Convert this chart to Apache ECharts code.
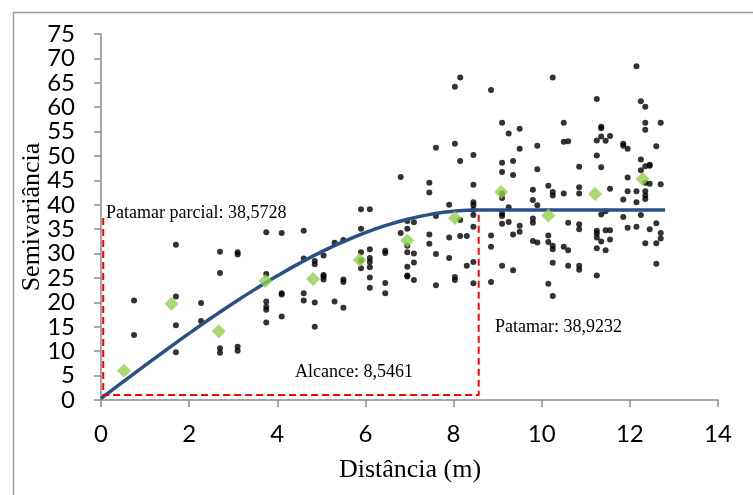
<!DOCTYPE html>
<html>
<head>
<meta charset="utf-8">
<script src="https://cdn.jsdelivr.net/npm/echarts@6/dist/echarts.min.js"></script>
<style>
html,body{margin:0;padding:0;background:#fff;}
#chart{width:753px;height:495px;}
</style>
</head>
<body>
<div id="chart"></div>
<script>
// Experimental semivariance (black dots): [distance, semivariance]
const experimentalPoints = [
  [0.75,20.4],[0.75,13.3],
  [1.7,31.8],[1.7,21.2],[1.7,15.3],[1.7,9.8],
  [2.27,19.9],[2.27,16.2],
  [2.7,30.4],[2.7,26.0],[2.7,10.6],[2.7,9.7],
  [3.1,30.3],[3.1,29.8],[3.1,10.9],[3.1,10.1],
  [3.75,34.4],[3.75,25.8],[3.75,20.2],[3.75,19.1],[3.75,18.5],[3.75,15.9],
  [4.1,34.2],[4.1,21.9],[4.1,21.6],[4.1,17.1],
  [4.6,34.7],[4.6,29.0],[4.6,21.9],[4.6,20.4],
  [4.85,28.5],[4.85,27.8],[4.85,20.0],[4.85,15.0],
  [5.05,29.6],[5.05,25.6],[5.05,25.3],[5.05,24.7],
  [5.3,32.2],[5.3,20.2],
  [5.5,32.8],[5.5,24.7],[5.5,24.2],[5.5,18.9],
  [5.9,39.1],[5.9,35.1],[5.9,30.3],[5.9,28.6],[5.9,27.0],
  [6.1,39.1],[6.1,30.9],[6.1,29.1],[6.1,28.3],[6.1,27.2],[6.1,25.1],[6.1,23.0],
  [6.45,30.6],[6.45,30.1],[6.45,24.0],[6.45,21.9],
  [6.8,45.7],[6.8,34.2],
  [6.95,36.7],[6.95,35.1],[6.95,31.6],[6.95,30.3],[6.95,27.3],[6.95,25.5],[6.95,25.3],
  [7.1,36.4],[7.1,30.0],[7.1,28.2],[7.1,24.6],
  [7.45,44.5],[7.45,42.5],[7.45,33.9],[7.45,32.0],
  [7.6,51.7],[7.6,37.7],[7.6,29.9],[7.6,23.5],
  [7.9,40.0],[7.9,33.3],[7.9,29.1],
  [8.03,64.2],[8.03,52.5],[8.03,25.2],[8.03,24.6],
  [8.15,66.1],[8.15,49.0],[8.15,36.9],[8.15,33.6],
  [8.3,33.6],[8.3,27.5],
  [8.45,50.2],[8.45,44.1],[8.45,40.5],[8.45,39.9],[8.45,39.0],[8.45,37.9],[8.45,35.5],[8.45,28.3],[8.45,23.9],
  [8.85,63.5],[8.85,33.7],[8.85,31.4],[8.85,24.2],
  [9.1,56.8],[9.1,48.6],[9.1,46.7],[9.1,42.3],[9.1,41.4],[9.1,38.2],[9.1,37.7],[9.1,36.1],[9.1,27.5],
  [9.25,54.6],[9.25,39.5],[9.25,36.5],
  [9.35,49.0],[9.35,46.1],[9.35,33.9],[9.35,26.6],
  [9.5,55.6],[9.5,51.5],[9.5,35.7],[9.5,34.5],
  [9.8,43.1],[9.8,41.0],[9.8,37.2],[9.8,36.3],[9.8,32.6],
  [9.9,52.1],[9.9,47.3],[9.9,39.9],[9.9,32.3],
  [10.15,43.9],[10.15,33.7],[10.15,32.4],[10.15,23.8],
  [10.25,66.1],[10.25,42.6],[10.25,41.9],[10.25,31.6],[10.25,30.9],[10.25,28.1],[10.25,21.3],
  [10.5,56.8],[10.5,52.9],[10.5,42.3],[10.5,31.4],
  [10.6,53.0],[10.6,36.3],[10.6,30.7],[10.6,27.5],
  [10.85,47.8],[10.85,43.6],[10.85,42.3],[10.85,36.0],[10.85,35.0],[10.85,27.5],[10.85,26.7],
  [11.25,61.7],[11.25,53.2],[11.25,50.1],[11.25,34.7],[11.25,34.1],[11.25,33.3],[11.25,31.1],[11.25,25.5],
  [11.35,56.0],[11.35,55.7],[11.35,54.0],[11.35,47.7],[11.35,38.0],[11.35,32.5],
  [11.45,53.1],[11.45,38.7],[11.45,34.8],[11.45,30.7],
  [11.55,54.1],[11.55,43.3],[11.55,34.8],[11.55,32.9],
  [11.85,52.5],[11.85,52.1],[11.85,41.1],[11.85,37.5],
  [11.95,51.5],[11.95,45.6],[11.95,42.8],[11.95,35.3],
  [12.15,68.4],[12.15,42.8],[12.15,40.5],[12.15,35.5],
  [12.25,61.2],[12.25,49.3],[12.25,47.1],[12.25,37.9],
  [12.35,60.1],[12.35,56.8],[12.35,55.4],[12.35,47.9],[12.35,44.5],[12.35,42.8],[12.35,41.9],[12.35,41.2],[12.35,32.1],
  [12.45,48.2],[12.45,48.0],[12.45,44.3],[12.45,35.0],
  [12.6,52.0],[12.6,36.2],[12.6,32.1],[12.6,27.9],
  [12.7,56.8],[12.7,44.2],[12.7,34.2],[12.7,33.1]
];
// Binned mean semivariance (green diamonds)
const binMeans = [
  [0.52,6.0],[1.6,19.7],[2.67,14.1],[3.73,24.4],[4.81,24.8],[5.87,28.7],
  [6.95,32.7],[8.03,37.3],[9.08,42.6],[10.15,37.8],[11.21,42.2],[12.29,45.3]
];
// Fitted model curve (blue)
const modelCurve = [
  [0,0.35],[0.5,3.73],[1,7.09],[1.5,10.40],[2,13.64],[2.5,16.79],[3,19.83],
  [3.5,22.72],[4,25.45],[4.5,28.00],[5,30.34],[5.5,32.45],[6,34.30],[6.5,35.87],
  [7,37.14],[7.5,38.09],[8,38.69],[8.5461,38.92],[12.8,38.92]
];
// Red dashed guide (partial sill / range / sill)
const guideLine = [[0.05,37.3],[0.05,1.0],[8.57,1.0],[8.57,38.9]];
const xTicks = {min:0, max:14, interval:2};
const yTicks = {min:0, max:75, interval:5};
const labels = {
  partialSill: 'Patamar parcial: 38,5728',
  range: 'Alcance: 8,5461',
  sill: 'Patamar: 38,9232',
  xName: 'Distância (m)',
  yName: 'Semivariância'
};

const chart = echarts.init(document.getElementById('chart'), null, {renderer:'canvas'});
const axisColor = '#8a8a8a';
const serif = '"Liberation Serif", "Times New Roman", serif';
const tickFont = 'Lato, "Open Sans", sans-serif';
chart.setOption({
  animation:false,
  backgroundColor:'#ffffff',
  grid:{left:101, right:35, top:34, bottom:95, containLabel:false},
  xAxis:{
    type:'value', min:xTicks.min, max:xTicks.max, interval:xTicks.interval,
    axisLine:{show:true, onZero:false, lineStyle:{color:axisColor, width:1.5}},
    axisTick:{show:true, inside:false, length:7, lineStyle:{color:axisColor, width:1.5}},
    axisLabel:{color:'#000', fontFamily:tickFont, fontSize:24, margin:22},
    splitLine:{show:false}
  },
  yAxis:{
    type:'value', min:yTicks.min, max:yTicks.max, interval:yTicks.interval,
    axisLine:{show:true, onZero:false, lineStyle:{color:axisColor, width:1.5}},
    axisTick:{show:true, inside:false, length:7, lineStyle:{color:axisColor, width:1.5}},
    axisLabel:{color:'#000', fontFamily:tickFont, fontSize:24, margin:26},
    splitLine:{show:false}
  },
  series:[
    {type:'scatter', data:experimentalPoints, symbol:'circle', symbolSize:6,
     itemStyle:{color:'#000'}, z:2},
    {type:'line', data:modelCurve, smooth:true, showSymbol:false, symbol:'none',
     lineStyle:{color:'#2a5088', width:3.5}, z:3},
    {type:'scatter', data:binMeans, symbol:'diamond', symbolSize:14,
     itemStyle:{color:'#92d050'}, z:4},
    {type:'line', data:guideLine, showSymbol:false, symbol:'none',
     lineStyle:{color:'#ff0000', width:2, type:[7,4]}, z:5}
  ],
  graphic:[
    {type:'rect', left:11, top:10, shape:{width:800, height:600},
     style:{fill:'none', stroke:'#9a9a9a', lineWidth:1.5}, z:-1, silent:true},
    {type:'text', left:106, top:204, style:{text:labels.partialSill, font:'18px '+serif, fill:'#000'}},
    {type:'text', left:295, top:363, style:{text:labels.range, font:'18px '+serif, fill:'#000'}},
    {type:'text', left:495, top:318, style:{text:labels.sill, font:'18px '+serif, fill:'#000'}},
    {type:'text', x:410, y:470, style:{text:labels.xName, font:'26px '+serif, fill:'#000', align:'center', verticalAlign:'middle'}},
    {type:'text', x:32, y:217, rotation:Math.PI/2, style:{text:labels.yName, font:'26px '+serif, fill:'#000', align:'center', verticalAlign:'middle'}}
  ]
});
</script>
</body>
</html>
